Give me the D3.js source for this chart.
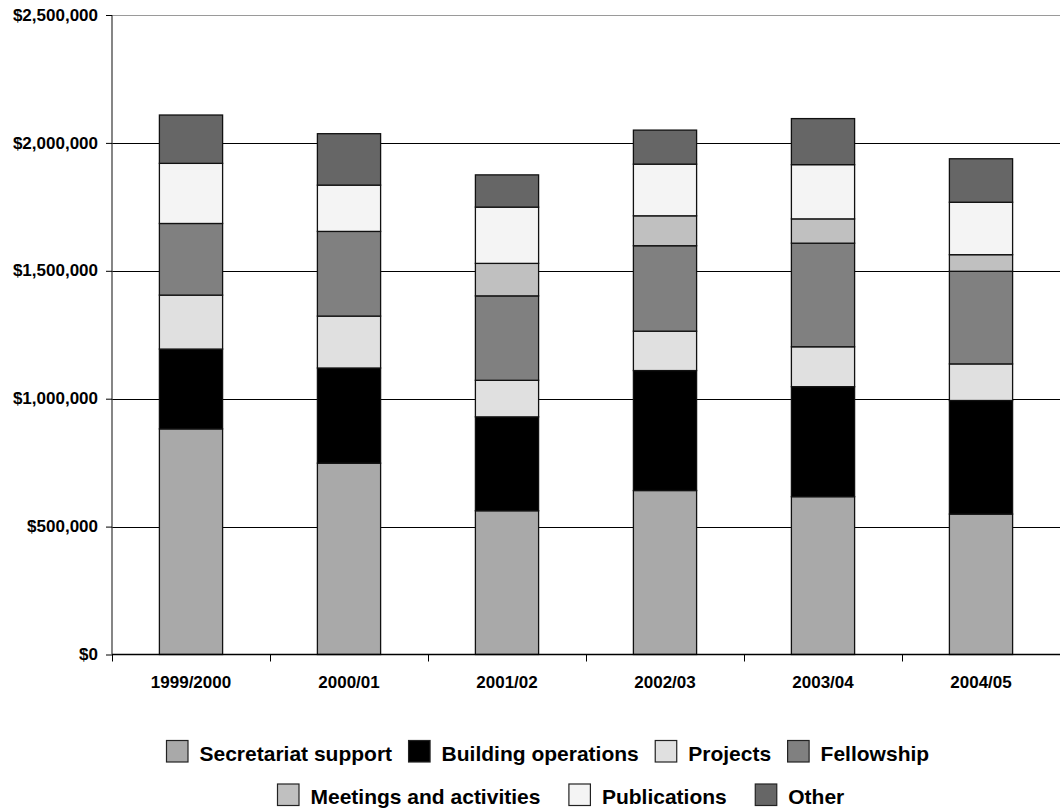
<!DOCTYPE html>
<html>
<head>
<meta charset="utf-8">
<script src="https://cdn.jsdelivr.net/npm/d3@7"></script>
<style>
  html, body { margin: 0; padding: 0; background: #fff; }
  svg { display: block; font-family: "Liberation Sans", Arial, Helvetica, sans-serif; font-weight: bold; }
</style>
</head>
<body>
<svg id="chart" width="1060" height="810"></svg>
<script>
// Financial years
const years = ["1999/2000", "2000/01", "2001/02", "2002/03", "2003/04", "2004/05"];

// Expenditure by category, in dollars, one value per year
const secretariatSupport  = [882000, 748000, 562000, 641000, 617000, 549000];
const buildingOperations  = [312000, 372000, 367000, 469000, 430000, 444000];
const projects            = [211000, 203000, 143000, 154000, 156000, 143000];
const fellowship          = [280000, 331000, 330000, 334000, 405000, 362000];
const meetingsActivities  = [0, 0, 127000, 117000, 95000, 65000];
const publications        = [235000, 181000, 220000, 202000, 212000, 205000];
const other               = [189000, 201000, 126000, 133000, 180000, 170000];

const seriesNames = ["Secretariat support", "Building operations", "Projects", "Fellowship",
                     "Meetings and activities", "Publications", "Other"];
const seriesValues = [secretariatSupport, buildingOperations, projects, fellowship,
                      meetingsActivities, publications, other];
const seriesColors = ["#a9a9a9", "#000000", "#e0e0e0", "#808080", "#c0c0c0", "#f4f4f4", "#666666"];

// Axis ticks
const yTicks = [0, 500000, 1000000, 1500000, 2000000, 2500000];

// Legend rows (indices into seriesNames)
const legendRows = [[0, 1, 2, 3], [4, 5, 6]];

const svg = d3.select("#chart");
const plot = { left: 112, right: 1060, top: 15, bottom: 654.5 };

const x = d3.scaleBand()
  .domain(years)
  .range([plot.left, plot.right])
  .paddingInner(0.6)
  .paddingOuter(0.3);

const y = d3.scaleLinear()
  .domain([0, 2500000])
  .range([plot.bottom, plot.top]);

// Table for stacking
const table = years.map((yr, i) => {
  const row = { year: yr };
  seriesNames.forEach((name, s) => { row[name] = seriesValues[s][i]; });
  return row;
});
const stacked = d3.stack().keys(seriesNames)(table);

// Gridlines
svg.append("g")
  .selectAll("line")
  .data(yTicks.filter(d => d > 0))
  .join("line")
  .attr("x1", plot.left)
  .attr("x2", plot.right)
  .attr("y1", d => Math.round(y(d)) + 0.5)
  .attr("y2", d => Math.round(y(d)) + 0.5)
  .attr("stroke", d => d === 2500000 ? "#9a9a9a" : "#000")
  .attr("stroke-width", 1);

// Stacked bars
svg.append("g")
  .selectAll("g")
  .data(stacked)
  .join("g")
  .attr("fill", (d, i) => seriesColors[i])
  .selectAll("rect")
  .data(d => d.filter(p => p[1] - p[0] > 0))
  .join("rect")
  .attr("x", d => x(d.data.year))
  .attr("width", x.bandwidth())
  .attr("y", d => y(d[1]))
  .attr("height", d => y(d[0]) - y(d[1]))
  .attr("stroke", "#111")
  .attr("stroke-width", 1.3);

// Y axis
const yAxis = d3.axisLeft(y)
  .tickValues(yTicks)
  .tickSize(6)
  .tickPadding(8)
  .tickFormat(d => "$" + d3.format(",")(d));

const gy = svg.append("g")
  .attr("transform", `translate(${plot.left},0)`)
  .call(yAxis);
gy.select(".domain").attr("stroke", "#444").attr("stroke-width", 1.3)
  .attr("d", `M0,${plot.top}V${plot.bottom}`);
gy.selectAll(".tick line").attr("stroke", "#000");
gy.selectAll(".tick text")
  .attr("fill", "#000")
  .attr("font-size", 17)
  .attr("font-weight", "bold")
  .attr("font-family", "'Liberation Sans', Arial, sans-serif")
  .attr("dy", "0.3em");

// X axis: baseline with ticks between categories
const gx = svg.append("g");
gx.append("line")
  .attr("x1", plot.left).attr("x2", plot.right)
  .attr("y1", plot.bottom).attr("y2", plot.bottom)
  .attr("stroke", "#000").attr("stroke-width", 1.3);
const boundaries = years.map(yr => x(yr) - x.step() * x.paddingOuter());
gx.selectAll("line.tk")
  .data(boundaries)
  .join("line")
  .attr("class", "tk")
  .attr("x1", d => Math.round(d) + 0.5)
  .attr("x2", d => Math.round(d) + 0.5)
  .attr("y1", plot.bottom)
  .attr("y2", plot.bottom + 7)
  .attr("stroke", "#000");
gx.selectAll("text")
  .data(years)
  .join("text")
  .attr("x", d => x(d) + x.bandwidth() / 2)
  .attr("y", 688)
  .attr("text-anchor", "middle")
  .attr("font-size", 17)
  .attr("fill", "#000")
  .text(d => d);

// Legend
const legendStyle = [
  { startX: 166, top: 740, gapOut: 16 },
  { startX: 277, top: 783.5, gapOut: 28 }
];
const swatch = 21.5, gapIn = 12;
legendRows.forEach((row, r) => {
  const st = legendStyle[r];
  let cx = st.startX;
  row.forEach(idx => {
    const g = svg.append("g");
    g.append("rect")
      .attr("x", cx + 0.5)
      .attr("y", st.top + 0.5)
      .attr("width", swatch)
      .attr("height", swatch)
      .attr("fill", seriesColors[idx])
      .attr("stroke", "#222")
      .attr("stroke-width", 1.2);
    const t = g.append("text")
      .attr("x", cx + swatch + gapIn)
      .attr("y", st.top + swatch - 1)
      .attr("font-size", 21)
      .attr("fill", "#000")
      .text(seriesNames[idx]);
    cx = cx + swatch + gapIn + t.node().getComputedTextLength() + st.gapOut;
  });
});
</script>
</body>
</html>
